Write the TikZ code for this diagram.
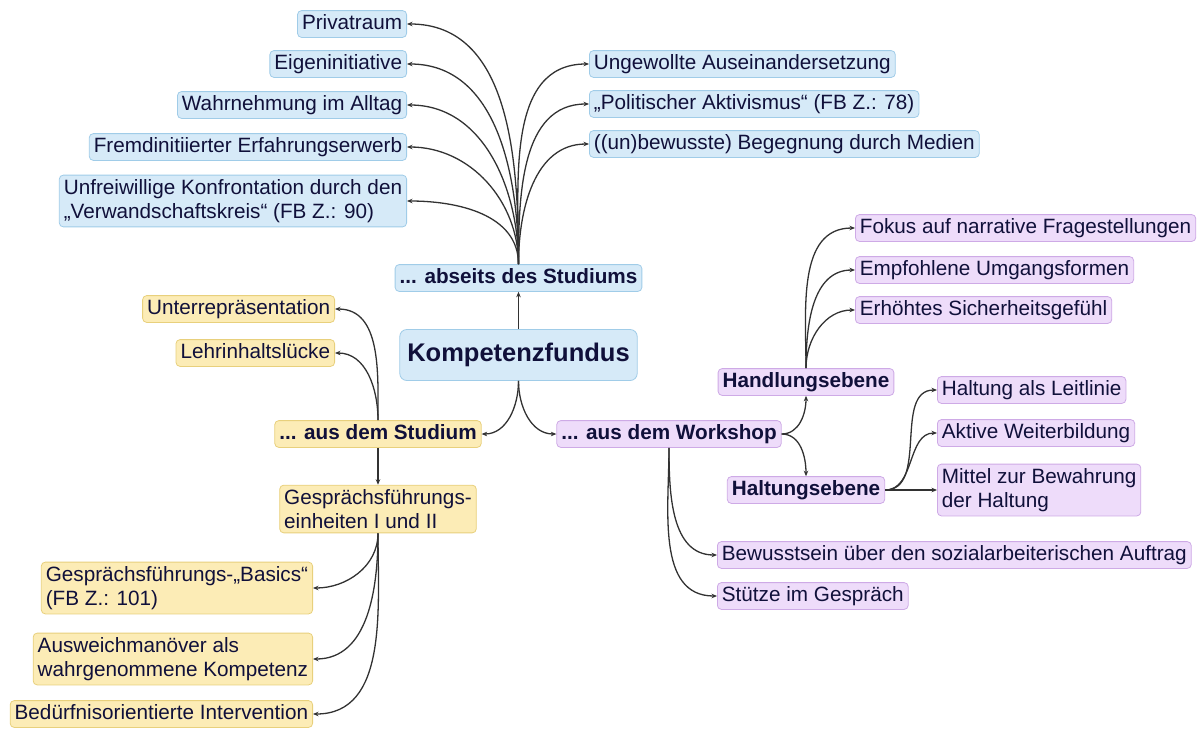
\documentclass[tikz,border=0pt]{standalone}
\usepackage{fontspec}
\setmainfont{Liberation Sans}
\usetikzlibrary{arrows.meta}

\definecolor{azulfondo}{RGB}{214,234,248}
\definecolor{azulborde}{RGB}{160,204,232}
\definecolor{amarillofondo}{RGB}{252,236,182}
\definecolor{amarilloborde}{RGB}{232,208,124}
\definecolor{lilafondo}{RGB}{238,220,250}
\definecolor{lilaborde}{RGB}{206,170,230}
\definecolor{tinta}{RGB}{16,16,58}
\definecolor{linea}{RGB}{50,50,50}

\tikzset{
  caja/.style={rounded corners=4pt, line width=0.8pt, text=tinta, inner xsep=4.5pt, inner ysep=4pt,
    text height=14.5pt, text depth=4.3pt, font=\fontsize{20.7}{23.5}\selectfont},
  azul/.style={caja, fill=azulfondo, draw=azulborde},
  amarilla/.style={caja, fill=amarillofondo, draw=amarilloborde},
  lila/.style={caja, fill=lilafondo, draw=lilaborde},
  doble/.style={align=left, text height={}, text depth={}, inner ysep=4.5pt},
  rama/.style={font=\fontsize{20.7}{23.5}\selectfont\bfseries},
  flecha/.style={draw=linea, line width=1.3pt, -{Stealth[length=5.5pt,width=4.5pt]}}
}

\begin{document}
\begin{tikzpicture}[x=1pt, y=-1pt]
\useasboundingbox (0,0) rectangle (1203,729);

% Nodo central
\node[azul, rounded corners=7pt, font=\fontsize{25.5}{30}\selectfont\bfseries, text height=18.5pt, text depth=5.5pt,
  inner xsep=7.5pt, inner ysep=13.5pt] (fundus) at (518.5,355) {Kompetenzfundus};

% Las tres ramas
\node[azul, rama] (abseits) at (518.5,278) {... abseits des Studiums};
\node[amarilla, rama] (studium) at (378,434) {... aus dem Studium};
\node[lila, rama] (workshop) at (669,434) {... aus dem Workshop};

% Hojas de la rama azul, a la izquierda y a la derecha
\node[azul, anchor=east] (privat) at (407,24) {Privatraum};
\node[azul, anchor=east] (eigen) at (407,64) {Eigeninitiative};
\node[azul, anchor=east] (wahrn) at (407,105) {Wahrnehmung im Alltag};
\node[azul, anchor=east] (fremd) at (407,147) {Fremdinitiierter Erfahrungserwerb};
\node[azul, doble, anchor=east] (unfrei) at (407,201) {Unfreiwillige Konfrontation durch den\\„Verwandschaftskreis“ (FB Z.: 90)};
\node[azul, anchor=west] (ungew) at (589,64) {Ungewollte Auseinandersetzung};
\node[azul, anchor=west] (polit) at (589,104) {„Politischer Aktivismus“ (FB Z.: 78)};
\node[azul, anchor=west] (medien) at (589,144) {((un)bewusste) Begegnung durch Medien};

% Hojas de la rama amarilla
\node[amarilla, anchor=east] (unterrep) at (335,309) {Unterrepräsentation};
\node[amarilla, anchor=east] (lehr) at (335,353) {Lehrinhaltslücke};
\node[amarilla, doble] (gespr) at (378,509) {Gesprächsführungs-\\einheiten I und II};
\node[amarilla, doble, anchor=east] (basics) at (313,588) {Gesprächsführungs-„Basics“\\(FB Z.: 101)};
\node[amarilla, doble, anchor=east] (ausw) at (313,659) {Ausweichmanöver als\\wahrgenommene Kompetenz};
\node[amarilla, anchor=east] (beduerf) at (313,714) {Bedürfnisorientierte Intervention};

% Hojas de la rama lila
\node[lila, rama] (handl) at (806,382) {Handlungsebene};
\node[lila, rama] (haltg) at (806,490) {Haltungsebene};
\node[lila, anchor=west] (fokus) at (855,228) {Fokus auf narrative Fragestellungen};
\node[lila, anchor=west] (empf) at (855,270) {Empfohlene Umgangsformen};
\node[lila, anchor=west] (erhoeht) at (855,310) {Erhöhtes Sicherheitsgefühl};
\node[lila, anchor=west] (leitl) at (937,390) {Haltung als Leitlinie};
\node[lila, anchor=west] (aktiv) at (937,433) {Aktive Weiterbildung};
\node[lila, doble, anchor=west] (mittel) at (937,490) {Mittel zur Bewahrung\\der Haltung};
\node[lila, anchor=west] (bewusst) at (717,555) {Bewusstsein über den sozialarbeiterischen Auftrag};
\node[lila, anchor=west] (stuetze) at (717,596) {Stütze im Gespräch};

% Conectores del centro
\draw[flecha] (fundus.north) -- (abseits.south);
\draw[flecha] (fundus.south) to[out=-90, in=0] (studium.east);
\draw[flecha] (fundus.south) to[out=-90, in=180] (workshop.west);

% Abanico de la rama azul
\foreach \hoja in {privat, eigen, wahrn, fremd, unfrei}
  \draw[flecha] (abseits.north) to[out=90, in=0] (\hoja.east);
\foreach \hoja in {ungew, polit, medien}
  \draw[flecha] (abseits.north) to[out=90, in=180] (\hoja.west);

% Rama amarilla
\foreach \hoja in {unterrep, lehr}
  \draw[flecha] (studium.north) to[out=90, in=0] (\hoja.east);
\draw[flecha] (studium.south) -- (gespr.north);
\foreach \hoja in {basics, ausw, beduerf}
  \draw[flecha] (gespr.south) to[out=-90, in=0] (\hoja.east);

% Rama lila
\draw[flecha] (workshop.east) to[out=0, in=-90] (handl.south);
\draw[flecha] (workshop.east) to[out=0, in=90] (haltg.north);
\foreach \hoja in {fokus, empf, erhoeht}
  \draw[flecha] (handl.north) to[out=90, in=180] (\hoja.west);
\foreach \hoja in {leitl, aktiv, mittel}
  \draw[flecha] (haltg.east) to[out=0, in=180] (\hoja.west);
\foreach \hoja in {bewusst, stuetze}
  \draw[flecha] (workshop.south) to[out=-90, in=180] (\hoja.west);
\end{tikzpicture}
\end{document}
